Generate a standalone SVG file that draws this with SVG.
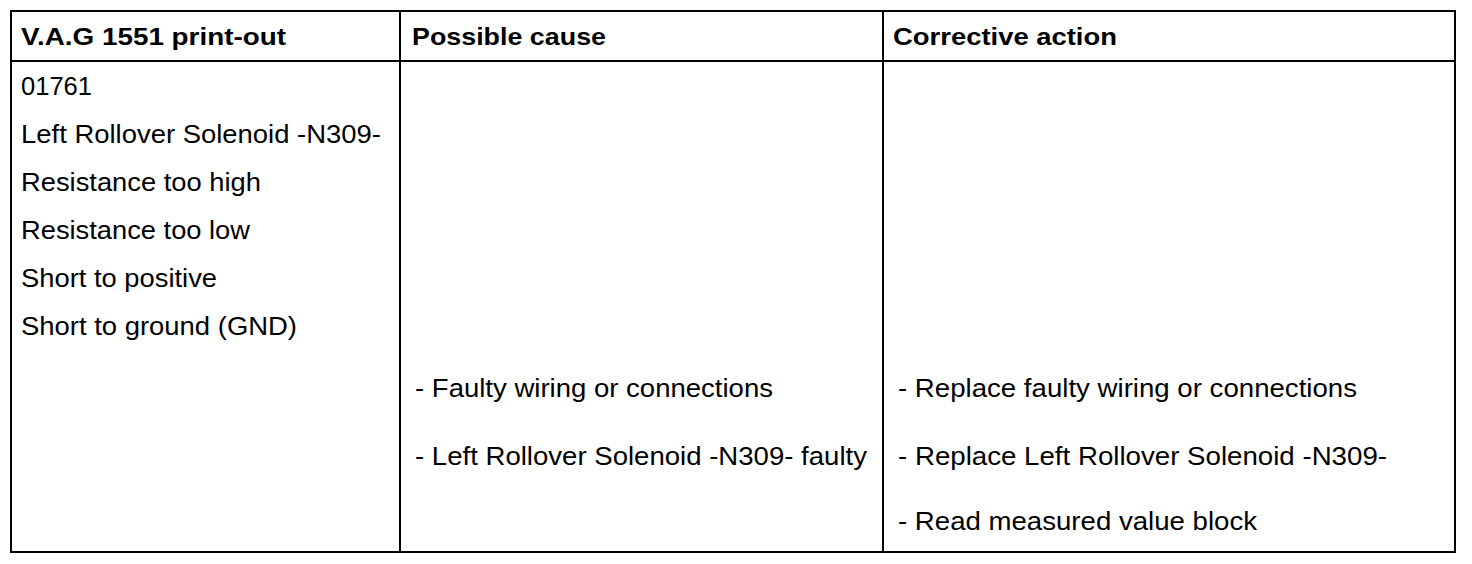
<svg xmlns="http://www.w3.org/2000/svg" width="1472" height="564" viewBox="0 0 1472 564">
<style>
.t{font-family:"Liberation Sans",Arial,sans-serif;font-size:25px;fill:#000}
.h{font-family:"Liberation Sans",Arial,sans-serif;font-size:24px;font-weight:bold;fill:#000}
.ln{stroke:#000;stroke-width:2;fill:none}
</style>
<rect width="1472" height="564" fill="#fff"/>
<g id="grid">
<rect class="ln" x="11" y="11" width="1444" height="541"/>
<line class="ln" x1="11" y1="61" x2="1455" y2="61"/>
<line class="ln" x1="400" y1="11" x2="400" y2="552"/>
<line class="ln" x1="883" y1="11" x2="883" y2="552"/>
</g>
<g id="header">
<text class="h" x="21" y="45" textLength="265" lengthAdjust="spacingAndGlyphs">V.A.G 1551 print-out</text>
<text class="h" x="412" y="45" textLength="194" lengthAdjust="spacingAndGlyphs">Possible cause</text>
<text class="h" x="893" y="45" textLength="224" lengthAdjust="spacingAndGlyphs">Corrective action</text>
</g>
<g id="col1">
<text class="t" x="21" y="95" textLength="71" lengthAdjust="spacingAndGlyphs">01761</text>
<text class="t" x="21" y="143" textLength="360" lengthAdjust="spacingAndGlyphs">Left Rollover Solenoid -N309-</text>
<text class="t" x="21" y="191" textLength="240" lengthAdjust="spacingAndGlyphs">Resistance too high</text>
<text class="t" x="21" y="239" textLength="229" lengthAdjust="spacingAndGlyphs">Resistance too low</text>
<text class="t" x="21" y="287" textLength="196" lengthAdjust="spacingAndGlyphs">Short to positive</text>
<text class="t" x="21" y="335" textLength="276" lengthAdjust="spacingAndGlyphs">Short to ground (GND)</text>
</g>
<g id="col2">
<text class="t" x="415" y="397" textLength="358" lengthAdjust="spacingAndGlyphs">- Faulty wiring or connections</text>
<text class="t" x="415" y="465" textLength="452" lengthAdjust="spacingAndGlyphs">- Left Rollover Solenoid -N309- faulty</text>
</g>
<g id="col3">
<text class="t" x="898" y="397" textLength="459" lengthAdjust="spacingAndGlyphs">- Replace faulty wiring or connections</text>
<text class="t" x="898" y="465" textLength="489" lengthAdjust="spacingAndGlyphs">- Replace Left Rollover Solenoid -N309-</text>
<text class="t" x="898" y="530" textLength="359" lengthAdjust="spacingAndGlyphs">- Read measured value block</text>
</g>
</svg>
